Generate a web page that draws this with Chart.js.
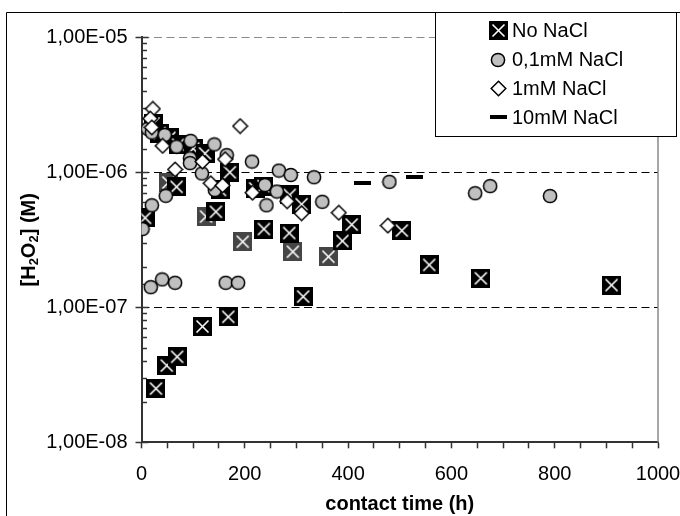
<!DOCTYPE html>
<html><head><meta charset="utf-8">
<script src="https://cdn.jsdelivr.net/npm/chart.js@4/dist/chart.umd.min.js"></script>
<style>html,body{margin:0;padding:0;background:#fff;}#wrap{width:680px;height:516px;position:relative}</style>
</head><body><div id="wrap"><canvas id="c" width="680" height="516"></canvas></div>
<script>
// ---------- data ----------
const seriesNames = ['No NaCl', '0,1mM NaCl', '1mM NaCl', '10mM NaCl'];

const noNaClTime = [7, 23, 35, 54, 71, 100, 123, 171, 68, 144, 152, 220, 236, 287, 310, 28, 49, 69, 118, 168, 313, 237, 286, 389, 407, 504, 557, 657, 910];
const noNaClConc = [4.6e-7, 2.3e-6, 1.95e-6, 1.8e-6, 1.6e-6, 1.5e-6, 1.38e-6, 1.0e-6, 7.8e-7, 5.1e-7, 7.4e-7, 7.6e-7, 7.9e-7, 6.8e-7, 5.8e-7, 2.5e-8, 3.7e-8, 4.3e-8, 7.2e-8, 8.5e-8, 1.2e-7, 3.8e-7, 3.55e-7, 3.1e-7, 4.1e-7, 3.7e-7, 2.06e-7, 1.64e-7, 1.46e-7];

// No NaCl points drawn in dark grey in the original
const noNaClGreyTime = [52, 125, 196, 293, 362];
const noNaClGreyConc = [8.4e-7, 4.7e-7, 3.06e-7, 2.58e-7, 2.37e-7];

const nacl01Time = [2, 18, 40, 65, 163, 187, 20, 47, 12, 20, 45, 68, 95, 94, 94, 117, 141, 165, 142, 214, 239, 242, 262, 266, 289, 334, 350, 480, 646, 675, 791];
const nacl01Conc = [3.8e-7, 1.41e-7, 1.61e-7, 1.52e-7, 1.52e-7, 1.52e-7, 5.7e-7, 6.7e-7, 2.1e-6, 1.97e-6, 1.89e-6, 1.55e-6, 1.71e-6, 1.27e-6, 1.17e-6, 9.8e-7, 1.61e-6, 1.34e-6, 7.4e-7, 1.2e-6, 8.05e-7, 5.7e-7, 7.2e-7, 1.03e-6, 9.55e-7, 9.2e-7, 6.05e-7, 8.5e-7, 7.0e-7, 7.9e-7, 6.67e-7];

const nacl1Time = [22, 17, 20, 41, 65, 118, 162, 191, 134, 157, 215, 282, 310, 382, 477];
const nacl1Conc = [2.95e-6, 2.5e-6, 2.15e-6, 1.57e-6, 1.05e-6, 1.2e-6, 1.25e-6, 2.2e-6, 8.3e-7, 8.0e-7, 7.06e-7, 6.1e-7, 4.97e-7, 5.02e-7, 4.03e-7];

const nacl10Time = [427, 528];
const nacl10Conc = [8.3e-7, 9.2e-7];

const xTickValues = [0, 200, 400, 600, 800, 1000];
const xTickLabels = ['0', '200', '400', '600', '800', '1000'];
const yTickValues = [1e-8, 1e-7, 1e-6, 1e-5];
const yTickLabels = ['1,00E-08', '1,00E-07', '1,00E-06', '1,00E-05'];
const xTitle = 'contact time (h)';

// ---------- markers ----------
function makeSquare(fill) {
  const c = document.createElement('canvas'); c.width = 19; c.height = 19;
  const g = c.getContext('2d');
  g.fillStyle = fill; g.fillRect(0, 0, 19, 19);
  g.strokeStyle = '#fff'; g.lineWidth = 1.6;
  g.beginPath(); g.moveTo(3.5, 3.5); g.lineTo(15.5, 15.5); g.moveTo(15.5, 3.5); g.lineTo(3.5, 15.5); g.stroke();
  return c;
}
function makeCircle() {
  const c = document.createElement('canvas'); c.width = 16; c.height = 16;
  const g = c.getContext('2d');
  g.fillStyle = '#c0c0c0'; g.strokeStyle = '#000'; g.lineWidth = 1.5;
  g.beginPath(); g.arc(8, 8, 6.6, 0, Math.PI * 2); g.fill(); g.stroke();
  return c;
}
function makeDiamond() {
  const c = document.createElement('canvas'); c.width = 17; c.height = 17;
  const g = c.getContext('2d');
  g.fillStyle = '#fff'; g.strokeStyle = '#000'; g.lineWidth = 1.5;
  g.beginPath(); g.moveTo(8.5, 1.2); g.lineTo(15.8, 8.5); g.lineTo(8.5, 15.8); g.lineTo(1.2, 8.5); g.closePath(); g.fill(); g.stroke();
  return c;
}
function makeDash() {
  const c = document.createElement('canvas'); c.width = 17; c.height = 4;
  const g = c.getContext('2d');
  g.fillStyle = '#000'; g.fillRect(0, 0, 17, 4);
  return c;
}
const mkSquare = makeSquare('#000'), mkSquareGrey = makeSquare('#454545');
const mkCircle = makeCircle(), mkDiamond = makeDiamond(), mkDash = makeDash();
const legendMarkers = [mkSquare, mkCircle, mkDiamond, mkDash];

const zip = (xs, ys) => xs.map((x, i) => ({ x: x, y: ys[i] }));
const FONT = '"Liberation Sans", Arial, sans-serif';
const isMajor = v => yTickValues.some(t => Math.abs(t - v) / t < 1e-6);

const deco = {
  id: 'deco',
  beforeDraw(chart) {
    const ctx = chart.ctx;
    ctx.save();
    ctx.fillStyle = '#fff'; ctx.fillRect(0, 0, chart.width, chart.height);
    ctx.strokeStyle = '#000'; ctx.lineWidth = 1;
    ctx.beginPath(); ctx.moveTo(6.5, chart.height); ctx.lineTo(6.5, 12.5); ctx.lineTo(chart.width, 12.5); ctx.stroke();
    ctx.restore();
  },
  beforeDatasetsDraw(chart) {
    const { ctx, chartArea: a, scales: { y } } = chart;
    ctx.save();
    yTickValues.forEach((v, i) => {
      if (i === 0) return;
      const py = Math.round(y.getPixelForValue(v)) + 0.5;
      ctx.strokeStyle = i === yTickValues.length - 1 ? '#8a8a8a' : '#000';
      ctx.lineWidth = 1; ctx.setLineDash([8, 4.5]);
      ctx.beginPath(); ctx.moveTo(a.left, py); ctx.lineTo(a.right, py); ctx.stroke();
    });
    ctx.setLineDash([]);
    ctx.strokeStyle = '#8a8a8a'; ctx.lineWidth = 1.5;
    ctx.beginPath(); ctx.moveTo(a.right, a.top); ctx.lineTo(a.right, a.bottom); ctx.stroke();
    ctx.strokeStyle = '#333'; ctx.lineWidth = 1.5;
    y.ticks.forEach(t => {
      const py = Math.round(y.getPixelForValue(t.value)) + 0.5;
      ctx.beginPath(); ctx.moveTo(a.left, py); ctx.lineTo(a.left + (isMajor(t.value) ? 7 : 5.5), py); ctx.stroke();
    });
    ctx.restore();
  },
  afterDraw(chart) {
    const { ctx, chartArea: a } = chart;
    ctx.save();
    // legend
    ctx.fillStyle = '#fff'; ctx.fillRect(435.5, 12.5, 241, 124);
    ctx.strokeStyle = '#000'; ctx.lineWidth = 1; ctx.strokeRect(435.5, 12.5, 241, 124);
    const ly = [30, 59.5, 88.5, 117];
    ctx.font = '20px ' + FONT; ctx.fillStyle = '#000'; ctx.textBaseline = 'middle'; ctx.textAlign = 'left';
    seriesNames.forEach((n, i) => {
      const m = legendMarkers[i];
      ctx.drawImage(m, Math.round(498 - m.width / 2), Math.round(ly[i] - m.height / 2));
      ctx.fillText(n, 512, ly[i] + 1);
    });
    // y title with subscripts
    ctx.translate(28, (a.top + a.bottom) / 2); ctx.rotate(-Math.PI / 2);
    const parts = [['[H', 0], ['2', 1], ['O', 0], ['2', 1], ['] (M)', 0]];
    const big = 'bold 20px ' + FONT, small = 'bold 13px ' + FONT;
    let total = 0;
    parts.forEach(p => { ctx.font = p[1] ? small : big; total += ctx.measureText(p[0]).width; });
    let xx = -total / 2; ctx.textBaseline = 'alphabetic';
    parts.forEach(p => { ctx.font = p[1] ? small : big; ctx.fillText(p[0], xx, p[1] ? 10 : 7); xx += ctx.measureText(p[0]).width; });
    ctx.restore();
  }
};

new Chart(document.getElementById('c'), {
  type: 'scatter',
  data: {
    datasets: [
      { label: seriesNames[0], data: zip(noNaClTime, noNaClConc), pointStyle: mkSquare, pointRadius: 9, order: 3 },
      { label: seriesNames[0], data: zip(noNaClGreyTime, noNaClGreyConc), pointStyle: mkSquareGrey, pointRadius: 9, order: 4 },
      { label: seriesNames[1], data: zip(nacl01Time, nacl01Conc), pointStyle: mkCircle, pointRadius: 7, order: 2 },
      { label: seriesNames[2], data: zip(nacl1Time, nacl1Conc), pointStyle: mkDiamond, pointRadius: 7, order: 1 },
      { label: seriesNames[3], data: zip(nacl10Time, nacl10Conc), pointStyle: mkDash, pointRadius: 8, order: 0 }
    ]
  },
  options: {
    responsive: false, animation: false, events: [],
    layout: { padding: { left: 0, right: 22, top: 37.3, bottom: 0 } },
    plugins: { legend: { display: false }, tooltip: { enabled: false } },
    scales: {
      x: {
        type: 'linear', position: 'bottom', min: 0, max: 1000,
        afterFit(s) { s.height = 73.7; s.paddingLeft = 0; s.paddingRight = 0; },
        ticks: {
          stepSize: 50, autoSkip: false, maxRotation: 0, padding: 14, color: '#000',
          font: { family: FONT, size: 20 },
          callback(v) { const i = xTickValues.indexOf(v); return i >= 0 ? xTickLabels[i] : ''; }
        },
        grid: { display: true, drawOnChartArea: false, drawTicks: true, tickLength: 6, tickColor: '#333', tickWidth: 1.5 },
        border: { display: true, color: '#333', width: 2 },
        title: { display: true, text: xTitle, color: '#000', font: { family: FONT, size: 20, weight: 'bold' }, padding: { top: 0, bottom: 0 } }
      },
      y: {
        type: 'logarithmic', position: 'left', min: 1e-8, max: 1e-5,
        afterFit(s) { s.width = 141.5; s.paddingTop = 0; s.paddingBottom = 0; },
        ticks: {
          autoSkip: false, padding: 8, color: '#000',
          font: { family: FONT, size: 20 },
          callback(v) { const i = yTickValues.findIndex(t => Math.abs(t - v) / t < 1e-6); return i >= 0 ? yTickLabels[i] : ''; }
        },
        grid: {
          display: true, drawOnChartArea: false, drawTicks: true, tickLength: 6, tickWidth: 1.5,
          tickColor: c => (c.tick && isMajor(c.tick.value)) ? '#333' : 'rgba(0,0,0,0)'
        },
        border: { display: true, color: '#333', width: 2 }
      }
    }
  },
  plugins: [deco]
});
</script></body></html>
